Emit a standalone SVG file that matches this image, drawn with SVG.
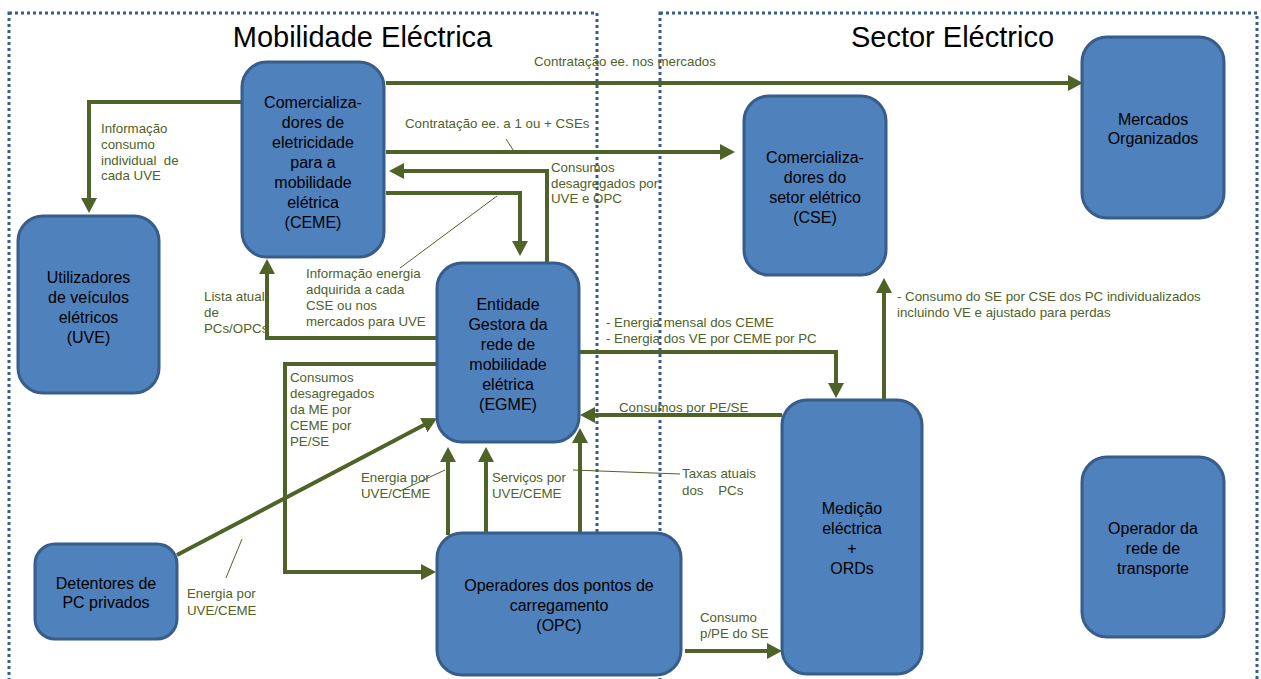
<svg xmlns="http://www.w3.org/2000/svg" width="1261" height="679" viewBox="0 0 1261 679">
<defs>
<style>
.zone{fill:none;stroke:#385D8A;stroke-width:3;stroke-dasharray:3 3}
.title{font-family:"Liberation Sans",Arial,sans-serif;font-size:29px;fill:#000;text-anchor:middle}
.node rect{fill:#4F81BD;stroke:#385D8A;stroke-width:3}
.node text{font-family:"Liberation Sans",Arial,sans-serif;font-size:16px;fill:#000;text-anchor:middle}
.con{fill:none;stroke:#4F6228;stroke-width:4;marker-end:url(#ah)}
.lead{fill:none;stroke:#4F6228;stroke-width:1}
.lbl{font-family:"Liberation Sans",Arial,sans-serif;font-size:13.3px;fill:#4F6228;white-space:pre}
</style>
<marker id="ah" markerUnits="userSpaceOnUse" markerWidth="16" markerHeight="16" refX="11" refY="8" orient="auto">
<path d="M0,0 L15,8 L0,16 z" fill="#4F6228"/>
</marker>
</defs>
<rect width="1261" height="679" fill="#fff"/>
<g id="zones">
<rect class="zone" x="9" y="13" width="588" height="700"/>
<rect class="zone" x="660" y="13" width="597" height="700"/>
<text class="title" x="362.5" y="47">Mobilidade Eléctrica</text>
<text class="title" x="952.5" y="47">Sector Eléctrico</text>
</g>
<g id="connectors">
<path class="con" d="M386,83 H1079"/>
<path class="con" d="M242,102 H89 V209"/>
<path class="con" d="M386,152 H731"/>
<path class="lead" d="M506,139 L515,153"/>
<path class="con" d="M547,262 V171 H393"/>
<path class="con" d="M386,193 H520 V252"/>
<path class="lead" d="M497,196 L400,268"/>
<path class="con" d="M436,338 H267 V263"/>
<path class="con" d="M436,364 H285 V572 H432"/>
<path class="con" d="M177,555 L433.5,420"/>
<path class="lead" d="M226,578 L242,539"/>
<path class="con" d="M448,535 V451"/>
<path class="lead" d="M400,491 L445,470"/>
<path class="con" d="M486,535 V451"/>
<path class="con" d="M580,532 V432"/>
<path class="lead" d="M573,470 L680,474"/>
<path class="con" d="M579,352 H836 V394"/>
<path class="con" d="M782,415 H584"/>
<path class="con" d="M884,399 V282"/>
<path class="con" d="M685,651 H778"/>
</g>
<g id="labels">
<text class="lbl" x="534" y="66">Contratação ee. nos mercados</text>
<text class="lbl" x="101" y="133" xml:space="preserve"><tspan x="101">Informação</tspan><tspan x="101" dy="16">consumo</tspan><tspan x="101" dy="16">individual  de</tspan><tspan x="101" dy="15">cada UVE</tspan></text>
<text class="lbl" x="405" y="128">Contratação ee. a 1 ou + CSEs</text>
<text class="lbl" x="551" y="172"><tspan x="551">Consumos</tspan><tspan x="551" dy="16">desagregados por</tspan><tspan x="551" dy="15">UVE e OPC</tspan></text>
<text class="lbl" x="306" y="278"><tspan x="306">Informação energia</tspan><tspan x="306" dy="16">adquirida a cada</tspan><tspan x="306" dy="16">CSE ou nos</tspan><tspan x="306" dy="16">mercados para UVE</tspan></text>
<text class="lbl" x="204" y="301"><tspan x="204">Lista atual</tspan><tspan x="204" dy="16">de</tspan><tspan x="204" dy="16">PCs/OPCs</tspan></text>
<text class="lbl" x="290" y="382"><tspan x="290">Consumos</tspan><tspan x="290" dy="16">desagregados</tspan><tspan x="290" dy="16">da ME por</tspan><tspan x="290" dy="16">CEME por</tspan><tspan x="290" dy="16">PE/SE</tspan></text>
<text class="lbl" x="606" y="327"><tspan x="606">- Energia mensal dos CEME</tspan><tspan x="606" dy="16">- Energia dos VE por CEME por PC</tspan></text>
<text class="lbl" x="619" y="412">Consumos por PE/SE</text>
<text class="lbl" x="897" y="301"><tspan x="897">- Consumo do SE por CSE dos PC individualizados</tspan><tspan x="897" dy="16">incluindo VE e ajustado para perdas</tspan></text>
<text class="lbl" x="187" y="598"><tspan x="187">Energia por</tspan><tspan x="187" dy="17">UVE/CEME</tspan></text>
<text class="lbl" x="361" y="482"><tspan x="361">Energia por</tspan><tspan x="361" dy="16">UVE/CEME</tspan></text>
<text class="lbl" x="492" y="482"><tspan x="492">Serviços por</tspan><tspan x="492" dy="16">UVE/CEME</tspan></text>
<text class="lbl" x="682" y="478" xml:space="preserve"><tspan x="682">Taxas atuais</tspan><tspan x="682" dy="17">dos    PCs</tspan></text>
<text class="lbl" x="700" y="622"><tspan x="700">Consumo</tspan><tspan x="700" dy="16">p/PE do SE</tspan></text>
</g>
<g id="ceme" class="node">
<rect x="242" y="62" width="142" height="195" rx="25"/>
<text x="313" y="108"><tspan x="313">Comercializa-</tspan><tspan x="313" dy="20">dores de</tspan><tspan x="313" dy="20">eletricidade</tspan><tspan x="313" dy="20">para a</tspan><tspan x="313" dy="20">mobilidade</tspan><tspan x="313" dy="20">elétrica</tspan><tspan x="313" dy="20">(CEME)</tspan></text>
</g>
<g id="uve" class="node">
<rect x="18" y="216" width="141" height="177" rx="25"/>
<text x="88.5" y="283"><tspan x="88.5">Utilizadores</tspan><tspan x="88.5" dy="20">de veículos</tspan><tspan x="88.5" dy="20">elétricos</tspan><tspan x="88.5" dy="20">(UVE)</tspan></text>
</g>
<g id="egme" class="node">
<rect x="437" y="263" width="142" height="179" rx="25"/>
<text x="508" y="310"><tspan x="508">Entidade</tspan><tspan x="508" dy="20">Gestora da</tspan><tspan x="508" dy="20">rede de</tspan><tspan x="508" dy="20">mobilidade</tspan><tspan x="508" dy="20">elétrica</tspan><tspan x="508" dy="20">(EGME)</tspan></text>
</g>
<g id="cse" class="node">
<rect x="744" y="96" width="142" height="179" rx="25"/>
<text x="815" y="163"><tspan x="815">Comercializa-</tspan><tspan x="815" dy="20">dores do</tspan><tspan x="815" dy="20">setor elétrico</tspan><tspan x="815" dy="20">(CSE)</tspan></text>
</g>
<g id="mercados" class="node">
<rect x="1082" y="37" width="142" height="181" rx="25"/>
<text x="1153" y="125"><tspan x="1153">Mercados</tspan><tspan x="1153" dy="19">Organizados</tspan></text>
</g>
<g id="medicao" class="node">
<rect x="782" y="400" width="140" height="274" rx="25"/>
<text x="852" y="514"><tspan x="852">Medição</tspan><tspan x="852" dy="20">eléctrica</tspan><tspan x="852" dy="20">+</tspan><tspan x="852" dy="20">ORDs</tspan></text>
</g>
<g id="operador" class="node">
<rect x="1082" y="457" width="142" height="180" rx="25"/>
<text x="1153" y="534"><tspan x="1153">Operador da</tspan><tspan x="1153" dy="20">rede de</tspan><tspan x="1153" dy="20">transporte</tspan></text>
</g>
<g id="detentores" class="node">
<rect x="35" y="544" width="142" height="95" rx="20"/>
<text x="106" y="589"><tspan x="106">Detentores de</tspan><tspan x="106" dy="19">PC privados</tspan></text>
</g>
<g id="opc" class="node">
<rect x="437" y="533" width="244" height="142" rx="25"/>
<text x="559" y="591"><tspan x="559">Operadores dos pontos de</tspan><tspan x="559" dy="20">carregamento</tspan><tspan x="559" dy="20">(OPC)</tspan></text>
</g>
</svg>
